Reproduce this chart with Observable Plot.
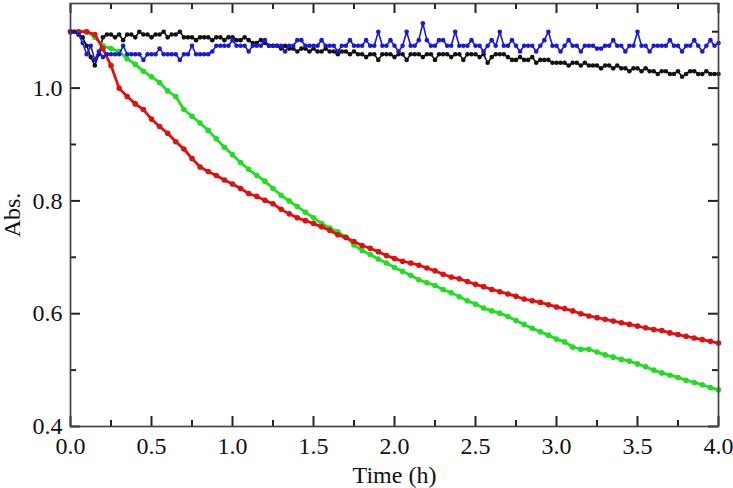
<!DOCTYPE html>
<html><head><meta charset="utf-8">
<script src="https://cdn.jsdelivr.net/npm/d3@7"></script>
<script src="https://cdn.jsdelivr.net/npm/@observablehq/plot@0.6"></script>
<style>body{margin:0;background:#fff} svg{display:block}</style>
</head><body><div id="chart"></div>
<script>
// coarse time grid (h) for the smooth decaying curves
const timeCoarse = [0,0.05,0.1,0.15,0.2,0.25,0.3,0.35,0.4,0.45,0.5,0.55,0.6,0.65,0.7,0.75,0.8,0.85,0.9,0.95,
1,1.05,1.1,1.15,1.2,1.25,1.3,1.35,1.4,1.45,1.5,1.55,1.6,1.65,1.7,1.75,1.8,1.85,1.9,1.95,
2,2.05,2.1,2.15,2.2,2.25,2.3,2.35,2.4,2.45,2.5,2.55,2.6,2.65,2.7,2.75,2.8,2.85,2.9,2.95,
3,3.05,3.1,3.15,3.2,3.25,3.3,3.35,3.4,3.45,3.5,3.55,3.6,3.65,3.7,3.75,3.8,3.85,3.9,3.95,4];

// fine time grid (h) for the noisy flat curves
const timeFine = [0,0.025,0.05,0.075,0.1,0.125,0.15,0.175,0.2,0.225,0.25,0.275,0.3,0.325,0.35,0.375,0.4,0.425,0.45,0.475,
0.5,0.525,0.55,0.575,0.6,0.625,0.65,0.675,0.7,0.725,0.75,0.775,0.8,0.825,0.85,0.875,0.9,0.925,0.95,0.975,
1,1.025,1.05,1.075,1.1,1.125,1.15,1.175,1.2,1.225,1.25,1.275,1.3,1.325,1.35,1.375,1.4,1.425,1.45,1.475,
1.5,1.525,1.55,1.575,1.6,1.625,1.65,1.675,1.7,1.725,1.75,1.775,1.8,1.825,1.85,1.875,1.9,1.925,1.95,1.975,
2,2.025,2.05,2.075,2.1,2.125,2.15,2.175,2.2,2.225,2.25,2.275,2.3,2.325,2.35,2.375,2.4,2.425,2.45,2.475,
2.5,2.525,2.55,2.575,2.6,2.625,2.65,2.675,2.7,2.725,2.75,2.775,2.8,2.825,2.85,2.875,2.9,2.925,2.95,2.975,
3,3.025,3.05,3.075,3.1,3.125,3.15,3.175,3.2,3.225,3.25,3.275,3.3,3.325,3.35,3.375,3.4,3.425,3.45,3.475,
3.5,3.525,3.55,3.575,3.6,3.625,3.65,3.675,3.7,3.725,3.75,3.775,3.8,3.825,3.85,3.875,3.9,3.925,3.95,3.975,4];

const blackSeries = [1.100,1.100,1.095,1.090,1.075,1.055,1.040,1.060,1.090,1.095,1.095,1.090,1.095,1.085,1.095,1.095,1.090,1.100,1.095,1.095,
1.090,1.095,1.095,1.100,1.090,1.095,1.095,1.100,1.090,1.090,1.090,1.085,1.090,1.090,1.090,1.085,1.090,1.090,1.085,1.090,
1.090,1.085,1.085,1.090,1.085,1.080,1.080,1.085,1.080,1.075,1.075,1.075,1.070,1.075,1.070,1.070,1.065,1.070,1.070,1.065,
1.070,1.065,1.065,1.070,1.065,1.065,1.060,1.065,1.065,1.060,1.065,1.060,1.060,1.055,1.060,1.060,1.050,1.060,1.060,1.060,
1.055,1.060,1.060,1.050,1.060,1.060,1.060,1.055,1.060,1.060,1.050,1.060,1.060,1.060,1.055,1.060,1.060,1.050,1.060,1.060,
1.060,1.055,1.060,1.045,1.055,1.060,1.060,1.060,1.055,1.050,1.050,1.055,1.050,1.050,1.055,1.045,1.050,1.050,1.050,1.045,
1.045,1.045,1.045,1.040,1.045,1.045,1.040,1.045,1.040,1.040,1.040,1.035,1.040,1.040,1.035,1.040,1.035,1.035,1.030,1.035,
1.035,1.030,1.035,1.030,1.030,1.025,1.030,1.030,1.025,1.025,1.030,1.020,1.025,1.030,1.030,1.025,1.025,1.030,1.025,1.025,1.025];

const blueSeries = [1.100,1.100,1.095,1.080,1.060,1.075,1.050,1.065,1.055,1.060,1.060,1.060,1.060,1.075,1.060,1.060,1.060,1.060,1.050,1.060,
1.060,1.060,1.070,1.060,1.060,1.060,1.060,1.050,1.060,1.060,1.075,1.060,1.060,1.060,1.060,1.065,1.075,1.075,1.075,1.075,
1.085,1.075,1.075,1.075,1.065,1.075,1.075,1.075,1.085,1.075,1.075,1.075,1.075,1.065,1.075,1.075,1.085,1.085,1.075,1.075,
1.075,1.075,1.085,1.075,1.075,1.075,1.065,1.075,1.075,1.085,1.075,1.075,1.075,1.085,1.075,1.075,1.100,1.075,1.075,1.085,
1.075,1.065,1.075,1.100,1.075,1.075,1.085,1.115,1.085,1.075,1.075,1.085,1.085,1.075,1.075,1.100,1.075,1.075,1.075,1.085,
1.075,1.075,1.065,1.075,1.085,1.075,1.100,1.075,1.075,1.085,1.075,1.065,1.075,1.075,1.075,1.065,1.075,1.085,1.100,1.075,
1.075,1.065,1.075,1.085,1.075,1.075,1.065,1.075,1.075,1.075,1.070,1.070,1.075,1.075,1.085,1.075,1.075,1.065,1.075,1.075,
1.100,1.075,1.075,1.065,1.075,1.075,1.075,1.075,1.085,1.075,1.075,1.065,1.075,1.075,1.085,1.075,1.065,1.075,1.085,1.075,1.080];

const redSeries = [1.10,1.10,1.10,1.095,1.07,1.04,1.00,0.985,0.972,0.962,0.945,0.932,0.920,0.905,0.892,0.875,0.860,0.852,0.845,0.837,
0.830,0.822,0.813,0.808,0.801,0.795,0.785,0.777,0.770,0.765,0.760,0.754,0.748,0.740,0.735,0.728,0.721,0.716,0.710,0.703,
0.698,0.693,0.690,0.686,0.681,0.676,0.670,0.665,0.662,0.657,0.652,0.648,0.643,0.639,0.635,0.631,0.626,0.623,0.620,0.616,
0.612,0.609,0.605,0.600,0.596,0.593,0.590,0.587,0.584,0.581,0.578,0.575,0.572,0.570,0.566,0.563,0.560,0.557,0.554,0.551,0.548];

const greenSeries = [1.10,1.10,1.10,1.09,1.075,1.07,1.065,1.052,1.042,1.030,1.020,1.010,0.995,0.985,0.962,0.950,0.938,0.925,0.910,0.895,
0.882,0.868,0.856,0.845,0.835,0.822,0.810,0.800,0.790,0.780,0.770,0.760,0.752,0.745,0.736,0.722,0.712,0.705,0.697,0.690,
0.682,0.675,0.668,0.660,0.655,0.650,0.643,0.637,0.630,0.623,0.617,0.610,0.605,0.601,0.595,0.588,0.581,0.574,0.568,0.562,
0.555,0.550,0.541,0.537,0.537,0.532,0.527,0.523,0.519,0.516,0.511,0.506,0.500,0.495,0.491,0.487,0.482,0.478,0.474,0.469,0.465];

const xMajor = [0,0.5,1,1.5,2,2.5,3,3.5,4];
const xMinor = [0.25,0.75,1.25,1.75,2.25,2.75,3.25,3.75];
const yMajor = [0.4,0.6,0.8,1.0];
const yMinor = [0.5,0.7,0.9,1.1];
const xDomain = [0, 4];
const yDomain = [0.4, 1.15];

const series = [
  {name: "black", time: timeFine, values: blackSeries, color: "#111111", sw: 1.6, r: 2.3},
  {name: "green", time: timeCoarse, values: greenSeries, color: "#22dd22", sw: 2.8, r: 2.8},
  {name: "red", time: timeCoarse, values: redSeries, color: "#e01010", sw: 2.8, r: 2.8},
  {name: "blue", time: timeFine, values: blueSeries, color: "#1a1ad6", sw: 1.6, r: 2.3}
];

const seriesMarks = series.flatMap(s => {
  const rows = s.time.map((t, i) => ({t, v: s.values[i]}));
  return [
    Plot.line(rows, {x: "t", y: "v", stroke: s.color, strokeWidth: s.sw}),
    Plot.dot(rows, {x: "t", y: "v", r: s.r, fill: s.color, stroke: "none"})
  ];
});

const W = 733, H = 488, mT = 3, mR = 15, mB = 62, mL = 70;
const frameW = W - mL - mR, frameH = H - mT - mB;
const tickStyle = {stroke: "#222", strokeWidth: 2};
const majorLen = 10, minorLen = 6;

const chart = Plot.plot({
  width: W, height: H,
  marginTop: mT, marginRight: mR, marginBottom: mB, marginLeft: mL,
  style: {fontFamily: "'Liberation Serif', 'Times New Roman', serif", fontSize: "24px", color: "#111", background: "#fff"},
  x: {domain: xDomain},
  y: {domain: yDomain},
  marks: [
    ...seriesMarks,
    // inward ticks on all four sides
    Plot.tickX(xMajor, {x: d => d, insetTop: frameH - majorLen, ...tickStyle}),
    Plot.tickX(xMinor, {x: d => d, insetTop: frameH - minorLen, ...tickStyle}),
    Plot.tickX(xMajor, {x: d => d, insetBottom: frameH - majorLen, ...tickStyle}),
    Plot.tickX(xMinor, {x: d => d, insetBottom: frameH - minorLen, ...tickStyle}),
    Plot.tickY(yMajor, {y: d => d, insetRight: frameW - majorLen, ...tickStyle}),
    Plot.tickY(yMinor, {y: d => d, insetRight: frameW - minorLen, ...tickStyle}),
    Plot.tickY(yMajor, {y: d => d, insetLeft: frameW - majorLen, ...tickStyle}),
    Plot.tickY(yMinor, {y: d => d, insetLeft: frameW - minorLen, ...tickStyle}),
    Plot.frame({stroke: "#444", strokeWidth: 1.7}),
    Plot.axisX(xMajor, {anchor: "bottom", tickSize: 0, tickPadding: 10, tickFormat: d3.format(".1f"), fontSize: 24, fill: "#111",
      label: "Time (h)", labelAnchor: "center", labelOffset: 56, labelArrow: "none"}),
    Plot.axisY(yMajor, {anchor: "left", tickSize: 0, tickPadding: 8, tickFormat: d3.format(".1f"), fontSize: 24, fill: "#111",
      label: "Abs.", labelAnchor: "center", labelOffset: 68, labelArrow: "none"})
  ]
});
document.getElementById("chart").appendChild(chart);
</script>
</body></html>
